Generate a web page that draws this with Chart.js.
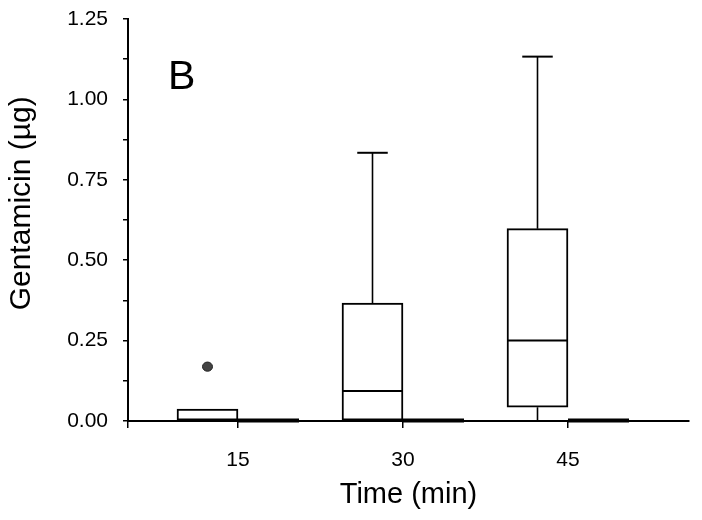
<!DOCTYPE html>
<html>
<head>
<meta charset="utf-8">
<script src="https://cdn.jsdelivr.net/npm/chart.js@4"></script>
<style>
  html, body { margin: 0; padding: 0; background: #fff; }
  #wrap { width: 702px; height: 520px; }
</style>
</head>
<body>
<div id="wrap"><canvas id="boxChart" width="702" height="520"></canvas></div>
<script>
// time points (min)
const categories = [15, 30, 45];

// gentamicin group (white boxes)
const gentLow = [0, 0, 0];
const gentQ1 = [0, 0, 0.043];
const gentMedian = [0, 0.093, 0.25];
const gentQ3 = [0.037, 0.367, 0.598];
const gentHigh = [0.037, 0.834, 1.133];
const gentOutliers = [[0.169], [], []];

// second group (all at zero)
const ctrlLow = [0, 0, 0];
const ctrlQ1 = [0, 0, 0];
const ctrlMedian = [0, 0, 0];
const ctrlQ3 = [0, 0, 0];
const ctrlHigh = [0, 0, 0];
const ctrlOutliers = [[], [], []];

const xTicks = [5, 15, 30, 45];

const groups = [
  {low: gentLow, q1: gentQ1, med: gentMedian, q3: gentQ3, high: gentHigh, out: gentOutliers},
  {low: ctrlLow, q1: ctrlQ1, med: ctrlMedian, q3: ctrlQ3, high: ctrlHigh, out: ctrlOutliers}
];

const FONT = "'Liberation Sans', Arial, sans-serif";

const boxPlugin = {
  id: 'boxParts',
  afterDatasetsDraw(chart) {
    const ctx = chart.ctx;
    const y = chart.scales.y;
    groups.forEach((g, di) => {
      const meta = chart.getDatasetMeta(di);
      meta.data.forEach((bar, i) => {
        const cx = bar.x;
        const w = bar.width;
        const left = cx - w / 2, right = cx + w / 2;
        const yq1 = y.getPixelForValue(g.q1[i]);
        const yq3 = y.getPixelForValue(g.q3[i]);
        const ymed = y.getPixelForValue(g.med[i]);
        const ylo = y.getPixelForValue(g.low[i]);
        const yhi = y.getPixelForValue(g.high[i]);
        ctx.save();
        ctx.strokeStyle = '#000';
        if (g.q3[i] - g.q1[i] < 1e-9) {
          // collapsed box shows as a thick line
          ctx.lineWidth = 4;
          ctx.beginPath();
          ctx.moveTo(left, yq1 - 0.5);
          ctx.lineTo(right, yq1 - 0.5);
          ctx.stroke();
        } else {
          ctx.lineWidth = 2;
          ctx.beginPath();
          ctx.moveTo(left, ymed);
          ctx.lineTo(right, ymed);
          ctx.stroke();
        }
        // whiskers
        ctx.lineWidth = 1.6;
        ctx.beginPath();
        if (yhi < yq3 - 0.5) {
          ctx.moveTo(cx, yq3);
          ctx.lineTo(cx, yhi);
        }
        if (ylo > yq1 + 0.5) {
          ctx.moveTo(cx, yq1);
          ctx.lineTo(cx, ylo);
        }
        ctx.stroke();
        ctx.lineWidth = 2;
        ctx.beginPath();
        if (yhi < yq3 - 0.5) {
          ctx.moveTo(cx - w / 4, yhi);
          ctx.lineTo(cx + w / 4, yhi);
        }
        ctx.stroke();
        // outliers
        g.out[i].forEach(v => {
          const py = y.getPixelForValue(v);
          ctx.beginPath();
          ctx.ellipse(cx, py, 5, 4.6, 0, 0, Math.PI * 2);
          ctx.fillStyle = '#444';
          ctx.fill();
          ctx.lineWidth = 1;
          ctx.strokeStyle = '#222';
          ctx.stroke();
        });
        ctx.restore();
      });
    });
    // panel letter
    const a = chart.chartArea;
    ctx.save();
    ctx.fillStyle = '#000';
    ctx.font = '41px ' + FONT;
    ctx.textBaseline = 'alphabetic';
    ctx.fillText('B', a.left + 40, a.top + 70);
    ctx.restore();
  }
};

const ctx = document.getElementById('boxChart');

new Chart(ctx, {
  type: 'bar',
  data: {
    datasets: [
      {
        label: 'Gentamicin',
        data: categories.map((c, i) => ({x: c, y: [gentQ1[i], gentQ3[i]]})),
        backgroundColor: '#fff',
        borderColor: '#000',
        borderWidth: 2,
        borderSkipped: false
      },
      {
        label: 'Second group',
        data: categories.map((c, i) => ({x: c, y: [ctrlQ1[i], ctrlQ3[i]]})),
        backgroundColor: '#000',
        borderColor: '#000',
        borderWidth: 0,
        borderSkipped: false
      }
    ]
  },
  options: {
    responsive: false,
    animation: false,
    events: [],
    layout: { padding: { top: 19, right: 13, bottom: 0, left: 0 } },
    barThickness: 61,
    plugins: {
      legend: { display: false },
      tooltip: { enabled: false }
    },
    scales: {
      x: {
        type: 'linear',
        min: 5,
        max: 56,
        offset: false,
        afterBuildTicks: s => { s.ticks = xTicks.map(v => ({value: v})); },
        afterFit: s => { s.height = 99; s.paddingLeft = 0; s.paddingRight = 0; },
        grid: { offset: false, drawOnChartArea: false, tickLength: 7, color: '#000', lineWidth: 1.5 },
        border: { display: true, color: '#000', width: 2 },
        ticks: {
          autoSkip: false,
          maxRotation: 0,
          padding: 20,
          color: '#000',
          font: { family: FONT, size: 21 },
          callback: v => (v === 5 ? '' : String(v))
        },
        title: {
          display: true,
          text: 'Time (min)',
          color: '#000',
          font: { family: FONT, size: 29, lineHeight: 1 },
          padding: { top: 0, bottom: 11 }
        }
      },
      y: {
        min: 0,
        max: 1.25,
        afterFit: s => { s.width = 128; s.paddingTop = 0; s.paddingBottom = 0; },
        grid: { drawOnChartArea: false, tickLength: 5, color: '#000', lineWidth: 1.5 },
        border: { display: true, color: '#000', width: 2 },
        ticks: {
          stepSize: 0.125,
          padding: 15,
          color: '#000',
          font: { family: FONT, size: 21 },
          callback: v => (Math.abs(v * 4 - Math.round(v * 4)) < 1e-6 ? v.toFixed(2) : '')
        },
        title: {
          display: true,
          text: '    Gentamicin (µg)',
          color: '#000',
          font: { family: FONT, size: 30, lineHeight: 1 },
          padding: { top: 7, bottom: 0 }
        }
      }
    }
  },
  plugins: [boxPlugin]
});
</script>
</body>
</html>
